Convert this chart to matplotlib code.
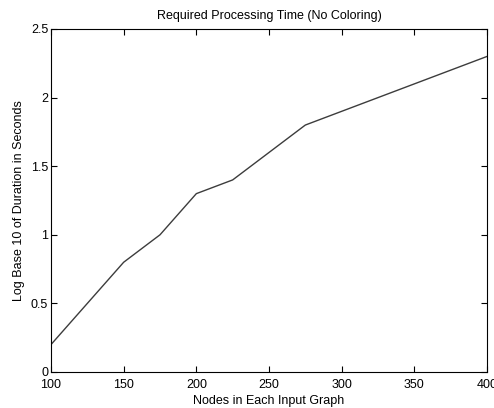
import matplotlib
matplotlib.use('Agg')
import matplotlib.pyplot as plt

nodes = [100, 150, 175, 200, 225, 250, 275, 300, 325, 350, 375, 400]
log_duration = [0.2, 0.8, 1.0, 1.3, 1.4, 1.6, 1.8, 1.9, 2.0, 2.1, 2.2, 2.3]

plt.rcParams['font.family'] = ['Liberation Sans', 'DejaVu Sans']
plt.rcParams['font.size'] = 9

fig = plt.figure(figsize=(4.94, 4.08), dpi=100)
ax = fig.add_axes([51 / 494, 1 - 372 / 408, 436 / 494, 343 / 408])
ax.plot(nodes, log_duration, color='#3c3c3c', linewidth=1.0)

ax.set_xlim(100, 400)
ax.set_ylim(0, 2.5)
ax.set_xticks([100, 150, 200, 250, 300, 350, 400])
ax.set_xticklabels(['100', '150', '200', '250', '300', '350', '400'])
ax.set_yticks([0, 0.5, 1, 1.5, 2, 2.5])
ax.set_yticklabels(['0', '0.5', '1', '1.5', '2', '2.5'])
ax.tick_params(direction='in', top=True, right=True, length=4, width=0.8, labelsize=9)
ax.tick_params(axis='x', pad=5)
ax.tick_params(axis='y', pad=2)
for s in ax.spines.values():
    s.set_linewidth(0.8)

ax.set_title('Required Processing Time (No Coloring)', fontsize=9, pad=7)
ax.set_xlabel('Nodes in Each Input Graph', fontsize=9, labelpad=3)
ax.set_ylabel('Log Base 10 of Duration in Seconds', fontsize=9, labelpad=4)

fig.savefig('out.png', dpi=100)
